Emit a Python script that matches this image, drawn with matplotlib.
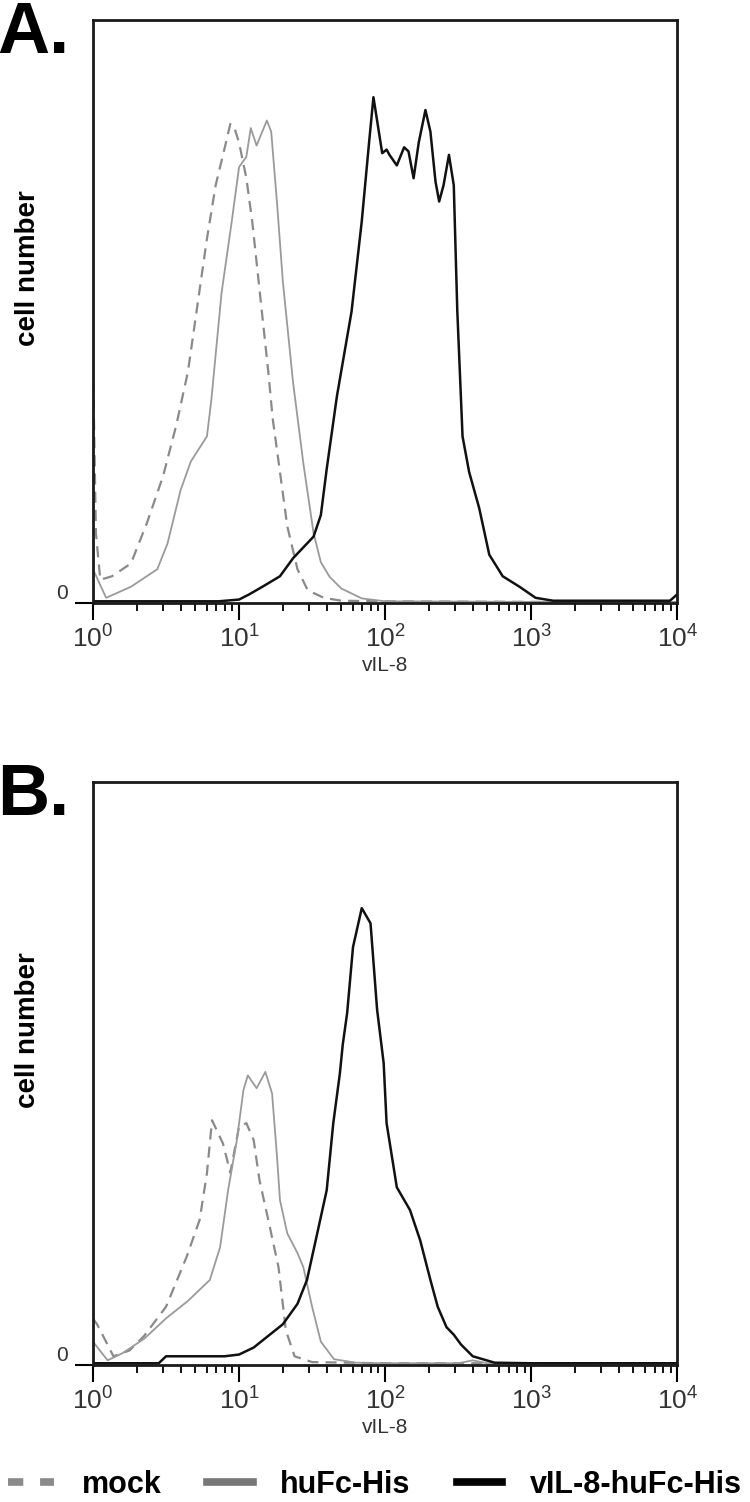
import matplotlib
matplotlib.use('Agg')
import matplotlib.pyplot as plt
from matplotlib import font_manager
from matplotlib.lines import Line2D
from matplotlib.ticker import LogLocator, NullFormatter, FixedLocator

names = {f.name for f in font_manager.fontManager.ttflist}
narrow = 'Liberation Sans Narrow' if 'Liberation Sans Narrow' in names else 'Liberation Sans'
plt.rcParams['font.family'] = [narrow, 'DejaVu Sans']
plt.rcParams['mathtext.fontset'] = 'custom'
plt.rcParams['mathtext.rm'] = narrow

# panel A  (x as log10 of vIL-8 intensity, y as % of frame height)
a_mock_lg = [0.0, 0.02, 0.05, 0.13, 0.26, 0.37, 0.48, 0.57, 0.65, 0.72, 0.78, 0.84, 0.91, 0.94, 0.965,
             1.0, 1.05, 1.09, 1.14, 1.2, 1.23, 1.28, 1.33, 1.40, 1.47, 1.58, 1.7, 2.0, 3.0, 4.0]
a_mock = [41, 12, 4, 4.6, 6.8, 13.8, 21.8, 30.5, 39.7, 52, 62.5, 71.7, 79, 82.2, 81.8,
          79, 72.9, 65.5, 53.8, 39.7, 31.7, 22.5, 13.2, 5.8, 2.2, 0.9, 0.4, 0.3, 0.2, 0.2]

a_hufc_lg = [0.0, 0.09, 0.26, 0.44, 0.51, 0.6, 0.67, 0.78, 0.81, 0.88, 0.95, 1.0, 1.05, 1.08, 1.12,
             1.19, 1.22, 1.26, 1.3, 1.37, 1.44, 1.51, 1.56, 1.62, 1.7, 1.84, 2.0, 3.0, 4.0]
a_hufc = [5.8, 0.9, 2.8, 5.8, 10.2, 19.4, 24.3, 28.6, 34.8, 53.2, 65.5, 74.8, 76.6, 81.5, 78.5,
          82.8, 80.9, 68.6, 55.1, 37.8, 24, 12, 7, 4.5, 2.5, 0.8, 0.3, 0.2, 0.2]

a_vil_lg = [0.0, 0.86, 1.0, 1.07, 1.16, 1.28, 1.37, 1.51, 1.56, 1.6, 1.67, 1.77, 1.84, 1.89, 1.92,
            1.95, 1.98, 2.01, 2.03, 2.08, 2.13, 2.16, 2.195, 2.23, 2.276, 2.31, 2.345, 2.37, 2.4,
            2.437, 2.47, 2.494, 2.53, 2.575, 2.644, 2.713, 2.805, 2.92, 3.03, 3.15, 3.95, 4.0]
a_vil = [0.3, 0.3, 0.6, 1.5, 2.8, 4.6, 7.7, 11.4, 15.1, 23, 35.5, 50, 65.5, 79, 86.8,
         82, 77.2, 77.8, 76.9, 75.1, 78.2, 77.5, 72.9, 79, 84.6, 80.9, 72.3, 68.9, 71.7,
         76.9, 71.7, 50.2, 28.6, 22.5, 16.3, 8.3, 4.6, 2.8, 0.9, 0.4, 0.4, 1.5]

# panel B
b_mock_lg = [0.0, 0.03, 0.14, 0.25, 0.35, 0.5, 0.64, 0.73, 0.78, 0.815, 0.89, 0.94, 1.0, 1.05,
             1.10, 1.14, 1.2, 1.27, 1.32, 1.38, 1.5, 2.0, 3.0, 4.0]
b_mock = [8, 6.9, 1.5, 2.5, 5, 10, 18.5, 24.9, 32.9, 42, 38, 33, 40.9, 41.5,
          38.6, 31.7, 24.9, 16.8, 6, 1.5, 0.5, 0.3, 0.3, 0.3]

b_hufc_lg = [0.0, 0.1, 0.2, 0.35, 0.5, 0.65, 0.8, 0.87, 0.925, 0.985, 1.03, 1.06, 1.12, 1.18, 1.226,
             1.26, 1.28, 1.33, 1.40, 1.44, 1.5, 1.56, 1.65, 1.8, 2.0, 2.5, 2.6, 2.7, 3.0, 4.0]
b_hufc = [4, 0.8, 2, 4.5, 8, 11, 14.6, 20.2, 30, 38.6, 47.2, 49.7, 47.5, 50.3, 46.6,
          35.7, 28.3, 22.6, 19.2, 16.8, 10, 4, 1, 0.4, 0.3, 0.3, 0.8, 0.3, 0.3, 0.3]

b_vil_lg = [0.0, 0.45, 0.5, 0.6, 0.9, 1.0, 1.1, 1.2, 1.3, 1.4, 1.465, 1.53, 1.6, 1.645, 1.69, 1.71,
            1.74, 1.78, 1.84, 1.9, 1.945, 1.99, 2.01, 2.08, 2.17, 2.24, 2.31, 2.36, 2.42, 2.47,
            2.52, 2.6, 2.75, 3.0, 4.0]
b_vil = [0.3, 0.3, 1.5, 1.5, 1.5, 1.8, 3, 5, 7, 10.5, 14.6, 22, 30, 41.5, 50, 55,
         60.4, 71.7, 78.4, 75.8, 61, 51.8, 41.5, 30.5, 26.6, 21.4, 14.6, 10, 6.5, 5.2,
         3.5, 1.5, 0.4, 0.3, 0.3]

panels = ['A.', 'B.']
series_labels = ['mock', 'huFc-His', 'vIL-8-huFc-His']
decades = [0, 1, 2, 3, 4]

mock_c = '#8a8a8a'
hufc_c = '#9a9a9a'
vil_c = '#111111'

fig = plt.figure(figsize=(7.5, 15.02), dpi=100)

def draw(rect, mock_lg, mock, hufc_lg, hufc, vil_lg, vil):
    ax = fig.add_axes(rect)
    ax.plot([10 ** v for v in mock_lg], mock, color=mock_c, lw=1.6, dashes=(5, 3.2))
    ax.plot([10 ** v for v in hufc_lg], hufc, color=hufc_c, lw=1.3)
    ax.plot([10 ** v for v in vil_lg], vil, color=vil_c, lw=1.8)
    ax.set_xscale('log')
    ax.set_xlim(1, 1e4)
    ax.set_ylim(0, 100)
    ax.xaxis.set_major_locator(FixedLocator([10 ** d for d in decades]))
    ax.set_xticklabels([r'$10^{%d}$' % d for d in decades])
    ax.xaxis.set_minor_locator(LogLocator(base=10, subs=range(2, 10)))
    ax.xaxis.set_minor_formatter(NullFormatter())
    ax.set_yticks([0])
    ax.set_yticklabels(['0'])
    for s in ax.spines.values():
        s.set_linewidth(2.0)
        s.set_color('#1a1a1a')
    ax.tick_params(axis='x', which='major', length=12, width=1.5, labelsize=19,
                   labelcolor='#333333', pad=3)
    ax.tick_params(axis='x', which='minor', length=6, width=1.3)
    ax.tick_params(axis='y', length=13, width=1.5, labelsize=15, labelcolor='#333333', pad=5)
    for lbl in ax.get_yticklabels():
        lbl.set_va('bottom')
    ax.set_xlabel('vIL-8', fontsize=15, color='#333333', labelpad=3)
    return ax

ax_a = draw([0.124, 0.5985, 0.779, 0.388], a_mock_lg, a_mock, a_hufc_lg, a_hufc, a_vil_lg, a_vil)
ax_b = draw([0.124, 0.0912, 0.779, 0.388], b_mock_lg, b_mock, b_hufc_lg, b_hufc, b_vil_lg, b_vil)

for ax, lab in zip([ax_a, ax_b], panels):
    top = ax.get_position().y1
    fig.text(-0.004, top + 0.0135, lab, fontsize=52, fontweight='bold', va='top', ha='left',
             family='Liberation Sans')
    fig.text(0.037, top - 0.165, 'cell number', fontsize=20, fontweight='bold', rotation=90,
             va='center', ha='center', family='Liberation Sans')

handles = [Line2D([], [], color=mock_c, lw=5.5, dashes=(2.0, 2.2)),
           Line2D([], [], color='#777777', lw=5.5),
           Line2D([], [], color='#000000', lw=5.5)]
fig.legend(handles, series_labels, loc='center', bbox_to_anchor=(0.5, 0.0113), ncol=3,
           frameon=False, handlelength=1.5, handletextpad=0.9, columnspacing=1.5,
           borderpad=0, borderaxespad=0,
           prop={'family': 'Liberation Sans', 'weight': 'bold', 'size': 22})

fig.savefig('out.png', dpi=100)
